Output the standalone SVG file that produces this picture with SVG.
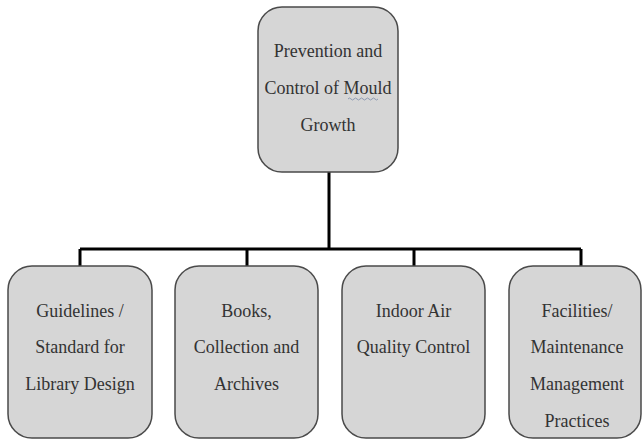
<svg xmlns="http://www.w3.org/2000/svg" width="643" height="439" viewBox="0 0 643 439">
<style>
.box{fill:#d6d6d6;stroke:#4a4a4a;stroke-width:1.5}
.t{font-family:'Liberation Serif','DejaVu Serif',serif;font-size:18px;fill:#333;text-anchor:middle}
.c{fill:none;stroke:#000;stroke-width:3}
</style>
<rect width="643" height="439" fill="#fff"/>
<g id="connectors">
<path class="c" d="M329 172V249M80 249H581M80 249V266M247 249V266M414 249V266M581 249V266"/>
</g>
<g id="root">
<rect class="box" x="258" y="7" width="140" height="165" rx="24"/>
<text class="t" x="328" y="57" font-family="Liberation Serif">Prevention and</text>
<text class="t" x="328" y="94" font-family="Liberation Serif">Control of Mould</text>
<text class="t" x="328" y="131" font-family="Liberation Serif">Growth</text>
<path d="M348 99q1.5-2 3 0t3 0t3 0t3 0t3 0t3 0t3 0t3 0t3 0t3 0" fill="none" stroke="#7a8aa8" stroke-width="0.8"/>
</g>
<g id="n1">
<rect class="box" x="8" y="266" width="144" height="172" rx="24"/>
<text class="t" x="80" y="317">Guidelines /</text>
<text class="t" x="80" y="353">Standard for</text>
<text class="t" x="80" y="390">Library Design</text>
</g>
<g id="n2">
<rect class="box" x="175" y="266" width="143" height="172" rx="24"/>
<text class="t" x="246.5" y="317">Books,</text>
<text class="t" x="246.5" y="353">Collection and</text>
<text class="t" x="246.5" y="390">Archives</text>
</g>
<g id="n3">
<rect class="box" x="342" y="266" width="143" height="172" rx="24"/>
<text class="t" x="413.5" y="317">Indoor Air</text>
<text class="t" x="413.5" y="353">Quality Control</text>
</g>
<g id="n4">
<rect class="box" x="509" y="266" width="132" height="172" rx="24"/>
<text class="t" x="577" y="317">Facilities/</text>
<text class="t" x="577" y="353">Maintenance</text>
<text class="t" x="577" y="390">Management</text>
<text class="t" x="577" y="427">Practices</text>
</g>
</svg>
